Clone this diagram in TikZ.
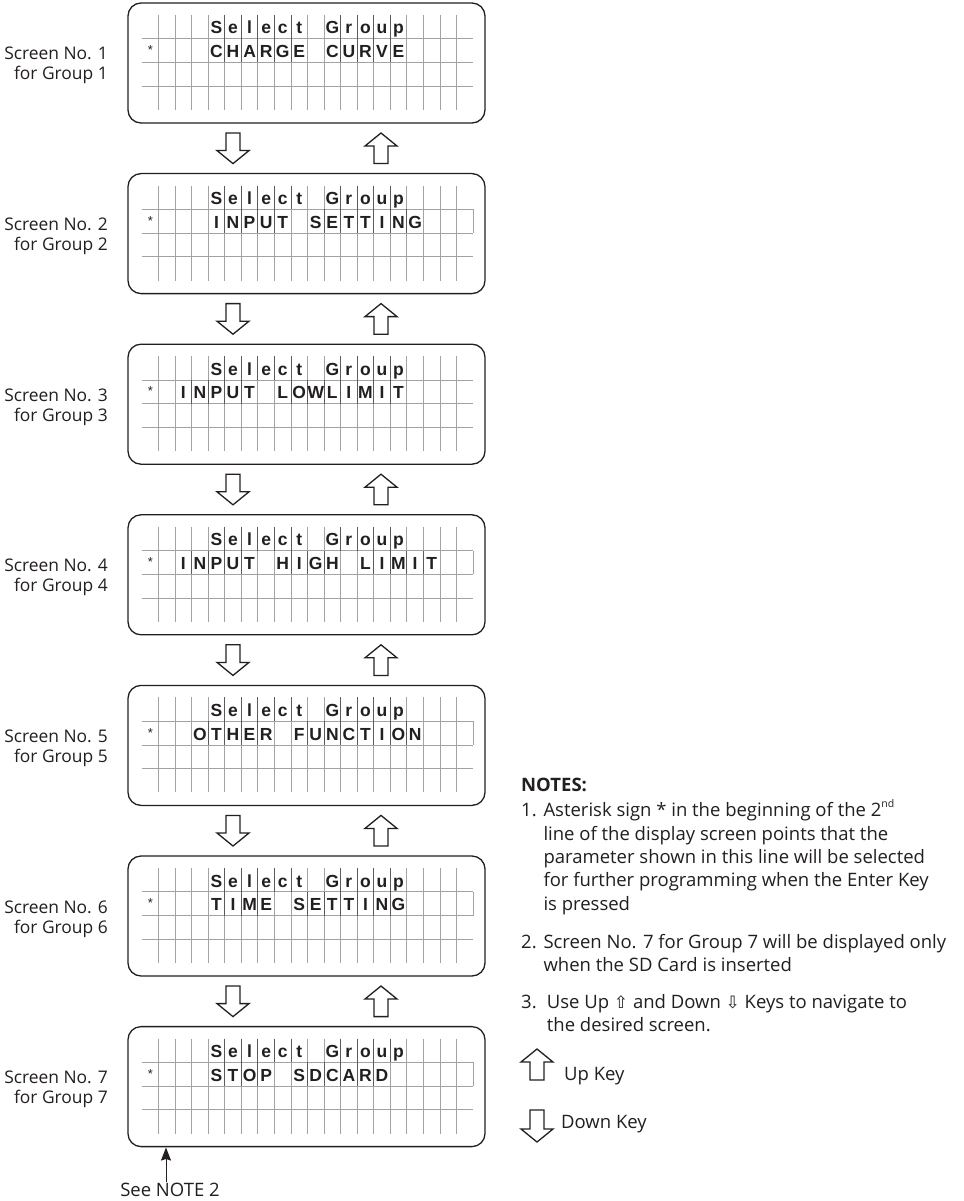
\documentclass[tikz,border=0pt]{standalone}
\usepackage{fontspec}
\setmainfont{Open Sans}
\newfontfamily\lcdfont{Liberation Sans}
\newfontfamily\symfont{DejaVu Sans}
\usetikzlibrary{arrows.meta}
\definecolor{ink}{HTML}{231F20}
\definecolor{gridgray}{HTML}{A3A3A3}
\definecolor{sepgray}{HTML}{5A5A5A}

\tikzset{
  screenbox/.style={draw=ink, line width=1.3pt, rounded corners=13pt, minimum width=357pt, minimum height=120pt, inner sep=0pt},
  gridline/.style={draw=gridgray, line width=0.8pt},
  sepline/.style={draw=sepgray, line width=0.8pt},
  lcdchar/.style={anchor=base, inner sep=0pt, text=ink, font=\lcdfont\bfseries\fontsize{17.5}{17.5}\selectfont},
  astchar/.style={anchor=base, inner sep=0pt, text=ink, font=\lcdfont\fontsize{13}{13}\selectfont},
  scrlabel/.style={anchor=base east, inner sep=0pt, text=ink, font=\fontsize{17.4}{20}\selectfont},
  notetext/.style={anchor=base west, inner sep=0pt, text=ink, font=\fontsize{18.5}{22}\selectfont},
  keyarrow/.style={draw=ink, line width=1.3pt, fill=white, line join=miter},
}

\makeatletter
\newcount\lcd@col
\newif\iflcd@prev
% \lcdline{top}{row}{start column}{characters, - for an empty cell}
\newcommand\lcdline[4]{%
  \lcd@col=#3\relax
  \def\lcd@top{#1}\def\lcd@row{#2}%
  \lcd@prevfalse
  \lcd@loop#4\relax}
\def\lcd@loop#1{%
  \ifx#1\relax\else
    \if#1-\lcd@prevfalse\else
      \pgfmathsetmacro\lcd@x{142+16.55*(\the\lcd@col+0.5)}%
      \pgfmathsetmacro\lcd@y{\lcd@top+12+23.75*\lcd@row+19}%
      \pgfmathsetmacro\lcd@ry{\lcd@top+12+23.75*\lcd@row}%
      \iflcd@prev
        \pgfmathsetmacro\lcd@sx{142+16.55*\the\lcd@col}%
        \draw[sepline] (\lcd@sx,\lcd@ry) -- ++(0,23.75);%
      \fi
      \node[lcdchar] at (\lcd@x,\lcd@y) {#1};%
      \lcd@prevtrue
    \fi
    \advance\lcd@col by 1\relax
    \expandafter\lcd@loop
  \fi}
\makeatother

% \screen{number}{top}{start column}{text of line 2}{boxed line 2: 1/0}
\newcommand\screen[5]{%
  \node[screenbox] (scr#1) at (306.5,#2+60) {};
  \foreach \k in {1,...,19}{\draw[gridline] ({142+16.55*\k},#2+12) -- ++(0,95);}
  \foreach \r in {1,2,3}{\draw[gridline] (142,{#2+12+23.75*\r}) -- (473,{#2+12+23.75*\r});}
  \ifnum#5=1 \draw[gridline] (473,#2+35.75) -- (473,#2+59.5);\fi
  \lcdline{#2}{0}{4}{Select-Group}
  \node[astchar] (ast#1) at (150.3,#2+35.75+16) {*};
  \lcdline{#2}{1}{#3}{#4}
  \node[scrlabel] (lab#1a) at (108,#2+57) {Screen No. #1};
  \node[scrlabel] (lab#1b) at (108,#2+77) {for Group #1};
}
% hollow arrows: x, top, bottom
\newcommand\downkey[3]{%
  \draw[keyarrow] (#1-7,#2) -- (#1+7,#2) -- (#1+7,#3-13) -- (#1+16,#3-13) -- (#1,#3) -- (#1-16,#3-13) -- (#1-7,#3-13) -- cycle;}
\newcommand\upkey[3]{%
  \draw[keyarrow] (#1,#2) -- (#1+16,#2+13) -- (#1+7,#2+13) -- (#1+7,#3) -- (#1-7,#3) -- (#1-7,#2+13) -- (#1-16,#2+13) -- cycle;}

\begin{document}
\begin{tikzpicture}[x=1pt,y=-1pt]
\useasboundingbox (0,0) rectangle (963,1201);
\fill[white] (0,0) rectangle (963,1201);

\screen{1}{3}{4}{CHARGE-CURVE}{0}
\screen{2}{173.6}{4}{INPUT-SETTING}{1}
\screen{3}{344.2}{2}{INPUT-LOWLIMIT}{0}
\screen{4}{514.8}{2}{INPUT-HIGH-LIMIT}{1}
\screen{5}{685.4}{3}{OTHER-FUNCTION}{1}
\screen{6}{856}{4}{TIME-SETTING}{1}
\screen{7}{1026.6}{4}{STOP-SDCARD}{1}

\foreach \t in {3,173.6,344.2,514.8,685.4,856}{
  \downkey{233}{\t+130}{\t+160.6}
  \upkey{381}{\t+130}{\t+160.6}
}

% note 2 pointer
\node[notetext, anchor=base] (seenote) at (170,1196) {See NOTE 2};
\coordinate (n2) at (166,1147.5);
\draw[ink, line width=1pt, -{Stealth[length=13pt,width=10pt,inset=1.5pt]}] (seenote.north -| n2) -- (n2);

% notes
\node[notetext] (nh) at (521,791.7) {\bfseries NOTES:};
\node[notetext] (n1n) at (521,816.7) {1.};
\node[notetext] (n1a) at (543.3,816.7) {Asterisk sign * in the beginning of the 2\raisebox{0.5em}{\fontsize{10.5}{10}\selectfont nd}};
\node[notetext] (n1b) at (543.3,840) {line of the display screen points that the};
\node[notetext] (n1c) at (543.3,863.4) {parameter shown in this line will be selected};
\node[notetext] (n1d) at (543.3,886.8) {for further programming when the Enter Key};
\node[notetext] (n1e) at (543.3,910.5) {is pressed};
\node[notetext] (n2n) at (521,948.3) {2.};
\node[notetext] (n2a) at (543.3,948.3) {Screen No. 7 for Group 7 will be displayed only};
\node[notetext] (n2b) at (543.3,971.7) {when the SD Card is inserted};
\node[notetext] (n3n) at (521,1008.3) {3.};
\node[notetext] (n3a) at (546.7,1008.3) {Use Up {\symfont\fontsize{17}{17}\selectfont ⇧} and Down {\symfont\fontsize{17}{17}\selectfont ⇩} Keys to navigate to};
\node[notetext] (n3b) at (546.7,1031.7) {the desired screen.};

\upkey{537}{1049}{1080}
\node[notetext] (upk) at (564,1080) {Up Key};
\downkey{537}{1110}{1142}
\node[notetext] (dnk) at (561,1128) {Down Key};
\end{tikzpicture}
\end{document}
